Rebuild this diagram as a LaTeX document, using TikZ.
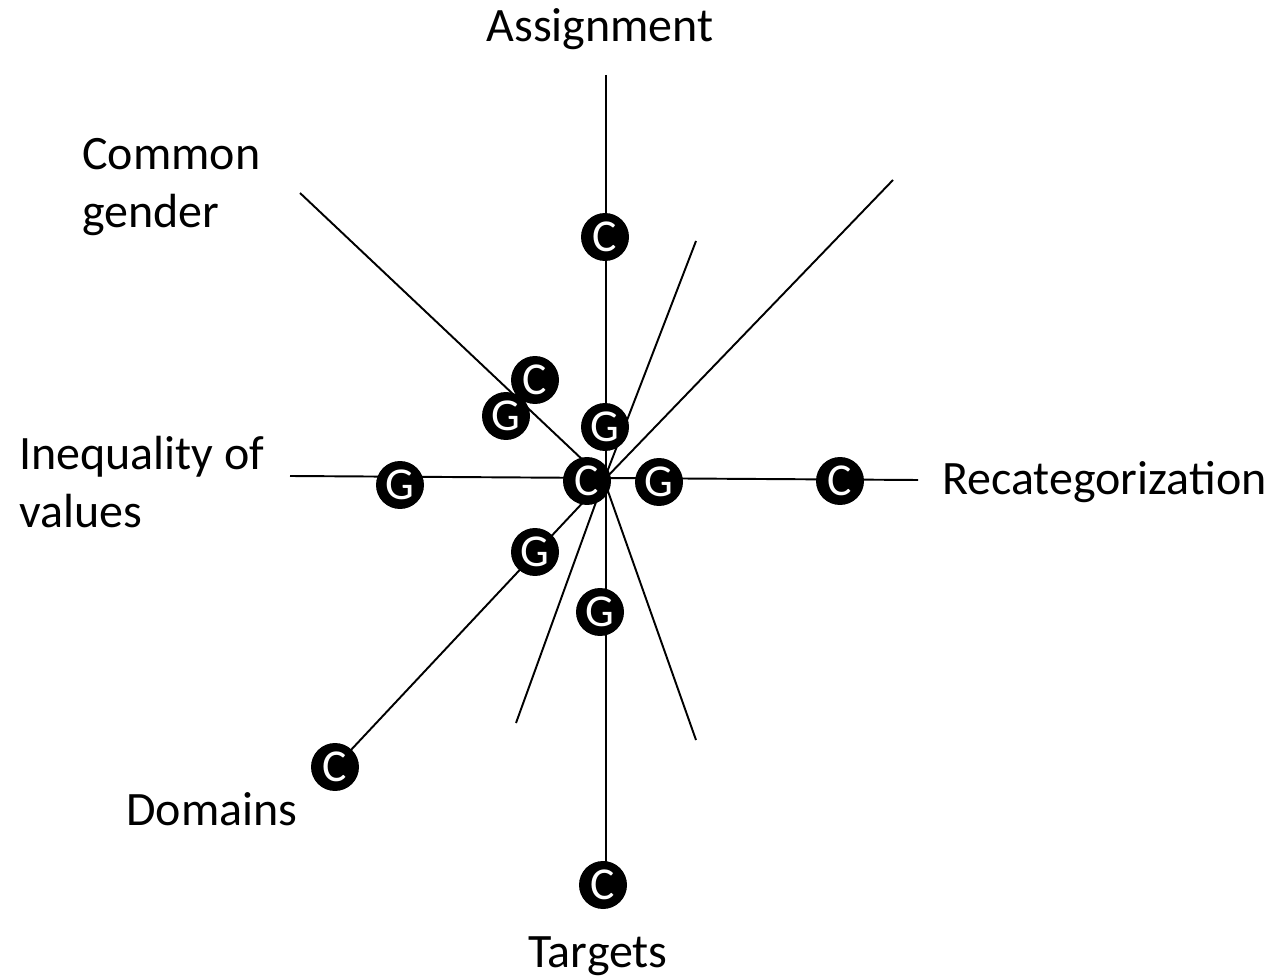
\documentclass[tikz,border=0pt]{standalone}
\usepackage{fontspec}
\setmainfont{Carlito}
\usepackage{tikz}
\usetikzlibrary{positioning,calc}
\tikzstyle{dot} = [circle, fill=black, text=white, minimum size=0.96cm, inner sep=0pt, font=\fontsize{26}{26}\selectfont]
\tikzstyle{lbl} = [inner sep=0pt, font=\fontsize{27.3}{33}\selectfont]
\tikzstyle{spoke} = [line width=1.1pt]

\begin{document}
\begin{tikzpicture}[x=0.02cm, y=-0.02cm]
				\useasboundingbox (0,0) rectangle (1274,979);
				% ends of the spokes
				\coordinate (o) at (604,480);
				\coordinate (endA) at (606,75);
				\coordinate (endT) at (606,875);
				\coordinate (endL) at (290,476);
				\coordinate (endR) at (918,480);
				\coordinate (endNW) at (300,193);
				\coordinate (endNE) at (893,180);
				\coordinate (endNNE) at (696,241);
				\coordinate (endSSW) at (516,723);
				\coordinate (endSSE) at (696,740);
				\coordinate (endSW) at (335,767);
				\draw[spoke] (endA) -- (endT);
				\draw[spoke] (endL) -- (endR);
				\draw[spoke] (o) -- (endNW);
				\draw[spoke] (o) -- (endNE);
				\draw[spoke] (o) -- (endNNE);
				\draw[spoke] (o) -- (endSSW);
				\draw[spoke] (o) -- (endSSE);
				\draw[spoke] (o) -- (endSW);
				% circles
				\node (cA) at (605,237) [dot] {C};
				\node (gA) at (605,427) [dot] {G};
				\node (cNW) at (535,380) [dot] {C};
				\node (gNW) at (506,416) [dot] {G};
				\node (gL) at (400,485) [dot] {G};
				\node (cO) at (587,481) [dot] {C};
				\node (gR) at (659,482) [dot] {G};
				\node (cR) at (840,481) [dot] {C};
				\node (gSW) at (535,552) [dot] {G};
				\node (gT) at (600,612) [dot] {G};
				\node (cSW) at (335,767) [dot] {C};
				\node (cT) at (603,885) [dot] {C};
				% labels
				\node (assign) at (600,29) [lbl] {Assignment};
				\node (common) at (82,187) [lbl, anchor=west, align=left] {Common\\gender};
				\node (ineq) at (19,482) [lbl, anchor=west, align=left] {Inequality of\\values};
				\node (recat) at (942,482) [lbl, anchor=west] {Recategorization};
				\node (dom) at (212,809) [lbl] {Domains};
				\node (targ) at (598,956) [lbl] {Targets};
\end{tikzpicture}
\end{document}
